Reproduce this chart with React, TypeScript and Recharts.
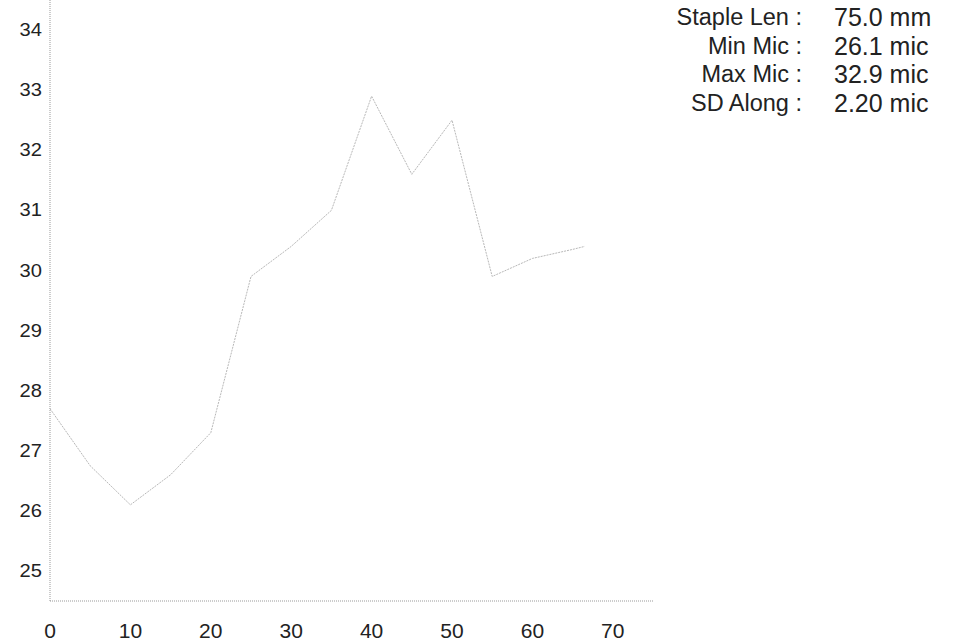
import React from 'react';
import { LineChart, Line, XAxis, YAxis } from 'recharts';

const positions = [0, 5, 10, 15, 20, 25, 30, 35, 40, 45, 50, 55, 60, 65, 66.5];
const micValues = [27.7, 26.75, 26.1, 26.6, 27.3, 29.9, 30.4, 31.0, 32.9, 31.6, 32.5, 29.9, 30.2, 30.35, 30.4];
const xTicks = [0, 10, 20, 30, 40, 50, 60, 70];
const yTicks = [25, 26, 27, 28, 29, 30, 31, 32, 33, 34];
const statLabels = ['Staple Len :', 'Min Mic :', 'Max Mic :', 'SD Along :'];
const statValues = ['75.0 mm', '26.1 mic', '32.9 mic', '2.20 mic'];

const data = positions.map((x, i) => ({ x, mic: micValues[i] }));

const FONT = '"Liberation Sans", Arial, Helvetica, sans-serif';

const YTick = (props: any) => {
  const { x, y, payload } = props;
  return (
    <g transform={`translate(${x},${y}) scale(1.12,1)`}>
      <text x={0} y={0} textAnchor="end" dominantBaseline="central" fontSize={18} fontFamily={FONT} fill="#222">
        {payload.value}
      </text>
    </g>
  );
};

const XTick = (props: any) => {
  const { x, y, payload } = props;
  return (
    <text x={x} y={y + 21} textAnchor="middle" dominantBaseline="central" fontSize={21} fontFamily={FONT} fill="#222">
      {payload.value}
    </text>
  );
};

export default function App() {
  return (
    <div style={{ position: 'absolute', left: 0, top: 0, width: 959, height: 643, background: '#fff' }}>
      <LineChart width={959} height={643} data={data} margin={{ top: 0, right: 306, bottom: 12, left: 0 }}>
        <XAxis
          type="number"
          dataKey="x"
          domain={[0, 75]}
          ticks={xTicks}
          tickLine={false}
          height={30}
          axisLine={{ stroke: '#999', strokeDasharray: '1 1' }}
          tick={<XTick />}
          interval={0}
        />
        <YAxis
          type="number"
          domain={[24.5, 34.5]}
          ticks={yTicks}
          tickLine={false}
          width={50}
          axisLine={{ stroke: '#999', strokeDasharray: '1 1' }}
          tick={<YTick />}
          interval={0}
        />
        <Line
          type="linear"
          dataKey="mic"
          stroke="#b8b8b8"
          strokeWidth={1}
          strokeDasharray="2 1"
          dot={false}
          isAnimationActive={false}
        />
      </LineChart>
      {statLabels.map((label, i) => (
        <div
          key={label}
          style={{
            position: 'absolute',
            top: 3 + i * 28.7,
            right: 959 - 802,
            fontFamily: FONT,
            fontSize: 23.5,
            color: '#222',
            whiteSpace: 'nowrap',
            lineHeight: '28px',
            textAlign: 'right',
          }}
        >
          {label}
        </div>
      ))}
      {statValues.map((v, i) => (
        <div
          key={v}
          style={{
            position: 'absolute',
            top: 3 + i * 28.7,
            left: 834,
            fontFamily: FONT,
            fontSize: 25,
            color: '#222',
            whiteSpace: 'nowrap',
            lineHeight: '28px',
          }}
        >
          {v}
        </div>
      ))}
    </div>
  );
}
